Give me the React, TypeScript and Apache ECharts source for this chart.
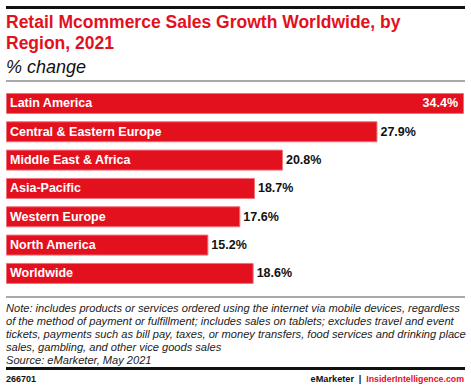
import React, { useEffect, useRef } from "react";
import * as echarts from "echarts";

const categories = [
  "Latin America",
  "Central & Eastern Europe",
  "Middle East & Africa",
  "Asia-Pacific",
  "Western Europe",
  "North America",
  "Worldwide",
];
const values = [34.4, 27.9, 20.8, 18.7, 17.6, 15.2, 18.6];

const titleLines = ["Retail Mcommerce Sales Growth Worldwide, by", "Region, 2021"];
const subtitle = "% change";
const noteLines = [
  "Note: includes products or services ordered using the internet via mobile devices, regardless",
  "of the method of payment or fulfillment; includes sales on tablets; excludes travel and event",
  "tickets, payments such as bill pay, taxes, or money transfers, food services and drinking place",
  "sales, gambling, and other vice goods sales",
  "Source: eMarketer, May 2021",
];
const chartId = "266701";

const RED = "#e3101e";
const FONT = "'Liberation Sans', Arial, sans-serif";

export default function App() {
  const ref = useRef<HTMLDivElement>(null);
  useEffect(() => {
    const chart = echarts.init(ref.current!, null, { renderer: "svg" });
    const graphics: any[] = [
      { type: "rect", shape: { x: 6, y: 6, width: 459, height: 3 }, style: { fill: "#111" } },
      ...titleLines.map((t, i) => ({
        type: "text",
        x: 6,
        y: 22 + i * 21,
        style: { text: t, fill: RED, font: `bold 17.5px ${FONT}`, textVerticalAlign: "middle" },
      })),
      {
        type: "text",
        x: 6,
        y: 67,
        style: { text: subtitle, fill: "#111", font: `italic 18px ${FONT}`, textVerticalAlign: "middle" },
      },
      { type: "rect", shape: { x: 6, y: 80.5, width: 459, height: 1 }, style: { fill: "#555" } },
      { type: "rect", shape: { x: 6, y: 296.5, width: 459, height: 1 }, style: { fill: "#555" } },
      ...noteLines.map((t, i) => ({
        type: "text",
        x: 6,
        y: 307.5 + i * 13,
        style: { text: t, fill: "#222", font: `italic 11.1px ${FONT}`, textVerticalAlign: "middle" },
      })),
      { type: "rect", shape: { x: 6, y: 367, width: 459, height: 3 }, style: { fill: "#111" } },
      {
        type: "text",
        x: 6,
        y: 378.5,
        style: { text: chartId, fill: "#111", font: `bold 9px ${FONT}`, textVerticalAlign: "middle" },
      },
      {
        type: "text",
        x: 464,
        y: 378.5,
        style: {
          text: "InsiderIntelligence.com",
          fill: RED,
          font: `bold 8.8px ${FONT}`,
          textAlign: "right",
          textVerticalAlign: "middle",
        },
      },
      {
        type: "text",
        x: 360,
        y: 378.5,
        style: {
          text: "|",
          fill: "#111",
          font: `bold 9px ${FONT}`,
          textAlign: "center",
          textVerticalAlign: "middle",
        },
      },
      {
        type: "text",
        x: 354,
        y: 378.5,
        style: {
          text: "eMarketer",
          fill: "#111",
          font: `bold 9.2px ${FONT}`,
          textAlign: "right",
          textVerticalAlign: "middle",
        },
      },
    ];

    chart.setOption({
      animation: false,
      grid: { left: 6, top: 89.3, width: 458, height: 198.3, containLabel: false },
      xAxis: { type: "value", min: 0, max: 34.4, show: false },
      yAxis: { type: "category", data: categories, inverse: true, show: false },
      series: [
        {
          type: "bar",
          data: values,
          barWidth: 21,
          itemStyle: { color: RED, borderColor: "#f0707a", borderWidth: 1 },
          label: {
            show: true,
            position: "insideLeft",
            distance: 4,
            formatter: "{b}",
            color: "#fff",
            fontFamily: FONT,
            fontWeight: "bold",
            fontSize: 12.5,
          },
          silent: true,
        },
        {
          type: "bar",
          barGap: "-100%",
          barWidth: 21,
          data: values.map((v, i) =>
            i === 0
              ? { value: v, label: { position: "insideRight", color: "#fff", distance: 6 } }
              : { value: v }
          ),
          itemStyle: { color: "rgba(0,0,0,0)" },
          label: {
            show: true,
            position: "right",
            distance: 3,
            formatter: "{c}%",
            color: "#111",
            fontFamily: FONT,
            fontWeight: "bold",
            fontSize: 12.5,
          },
          silent: true,
        },
      ],
      graphic: graphics,
    });
    return () => chart.dispose();
  }, []);
  return <div ref={ref} style={{ width: 471, height: 388, position: "absolute", left: 0, top: 0 }} />;
}
